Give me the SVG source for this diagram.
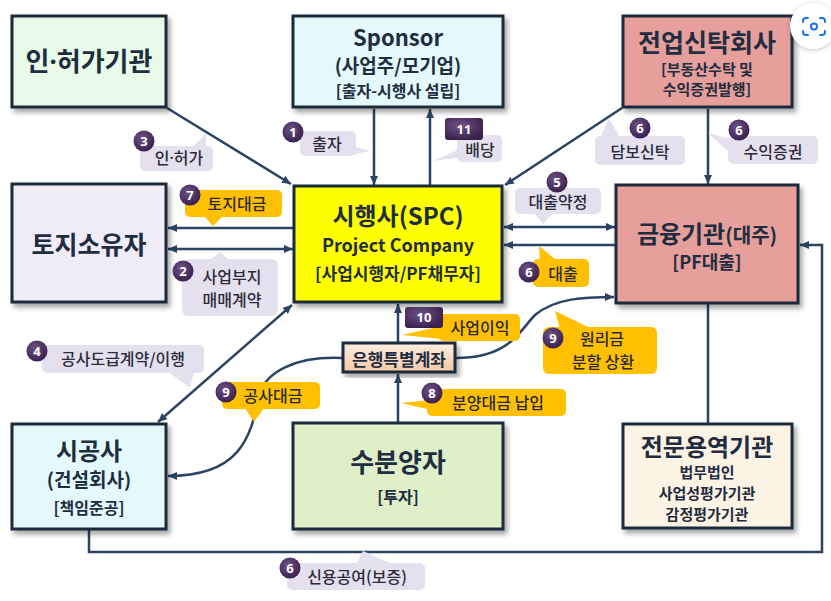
<svg xmlns="http://www.w3.org/2000/svg" width="831" height="601" viewBox="0 0 831 601">
<defs>
<marker id="ah" viewBox="0 0 10 10" refX="10" refY="5" markerWidth="9" markerHeight="9" markerUnits="userSpaceOnUse" orient="auto-start-reverse"><path d="M0,0.5 L10,5 L0,9.5 z" fill="#2c4464"/></marker>
<filter id="sh" x="-10%" y="-10%" width="125%" height="130%"><feDropShadow dx="3" dy="4" stdDeviation="2.5" flood-color="#000" flood-opacity="0.35"/></filter>
<filter id="sh2" x="-30%" y="-30%" width="160%" height="160%"><feDropShadow dx="0" dy="1" stdDeviation="2" flood-color="#000" flood-opacity="0.25"/></filter>
<radialGradient id="bg" cx="40%" cy="35%" r="65%"><stop offset="0" stop-color="#6e5285"/><stop offset="1" stop-color="#3b2150"/></radialGradient>
<linearGradient id="acc" x1="0" y1="0" x2="0" y2="1"><stop offset="0" stop-color="#fdeee2"/><stop offset="1" stop-color="#f3c8a6"/></linearGradient>
</defs>
<style>
.box{stroke:#1d2a3a;stroke-width:3;filter:url(#sh)}
.t{font-family:"Noto Sans CJK KR","Noto Sans",sans-serif;fill:#1f2d40;text-anchor:middle;font-weight:700}
.c{fill:none;stroke:#2c4464;stroke-width:2.5}
.pu{fill:#e5e0ee}
.or{fill:#ffc000}
.lt{font-family:"Noto Sans CJK KR","Noto Sans",sans-serif;font-size:16px;fill:#2b2b3a;text-anchor:middle;font-weight:500}
.bd{fill:url(#bg)}
.bn{font-family:"Noto Sans","Noto Sans CJK KR",sans-serif;font-size:13px;font-weight:700;fill:#fff;text-anchor:middle}
.dot{font-family:"Noto Sans",sans-serif}
</style>
<rect width="831" height="601" fill="#fff"/>

<g id="connectors">
<path class="c" d="M167,108 L291,184" marker-end="url(#ah)"/>
<path class="c" d="M374,109 L374,185" marker-end="url(#ah)"/>
<path class="c" d="M430,185 L430,109" marker-end="url(#ah)"/>
<path class="c" d="M622,108 L505,185" marker-end="url(#ah)"/>
<path class="c" d="M708,109 L708,184" marker-end="url(#ah)"/>
<path class="c" d="M293,228 L168,228" marker-end="url(#ah)"/>
<path class="c" d="M168,249 L293,249" marker-start="url(#ah)" marker-end="url(#ah)"/>
<path class="c" d="M504,227 L615,227" marker-start="url(#ah)" marker-end="url(#ah)"/>
<path class="c" d="M615,245 L504,245" marker-end="url(#ah)"/>
<path class="c" d="M708,304 L708,423"/>
<path class="c" d="M89,530 L89,552 L822,552 L822,245 L800,245" marker-end="url(#ah)"/>
<path class="c" d="M158,422 L292,305" marker-start="url(#ah)" marker-end="url(#ah)"/>
<path class="c" d="M398,342 L398,304" marker-end="url(#ah)"/>
<path class="c" d="M398,422 L398,374" marker-end="url(#ah)"/>
<path class="c" d="M342,358 C295,356 266,372 259,395 C251,440 238,476 168,476" marker-end="url(#ah)"/>
<path class="c" d="M456,358 C510,358 520,330 535,315 C555,298 585,297 614,297" marker-end="url(#ah)"/>
</g>

<g id="permit">
<rect class="box" x="12" y="16" width="154" height="91" fill="#e9fbe8"/>
<text class="t" x="89" y="71" font-size="26">인<tspan class="dot">·</tspan>허가기관</text>
</g>
<g id="sponsor">
<rect class="box" x="293" y="16" width="210" height="91" fill="#e4f9fc"/>
<text class="t" x="398" y="46" font-size="22">Sponsor</text>
<text class="t" x="398" y="73" font-size="19">(사업주/모기업)</text>
<text class="t" x="398" y="97" font-size="16">[출자-시행사 설립]</text>
</g>
<g id="trust">
<rect class="box" x="623" y="16" width="169" height="91" fill="#e69f9b"/>
<text class="t" x="707" y="52" font-size="25">전업신탁회사</text>
<text class="t" x="707" y="75" font-size="15">[부동산수탁 및</text>
<text class="t" x="707" y="95" font-size="15">수익증권발행]</text>
</g>
<g id="land">
<rect class="box" x="12" y="184" width="154" height="118" fill="#f0ecf8"/>
<text class="t" x="89" y="254" font-size="25">토지소유자</text>
</g>
<g id="spc">
<rect class="box" x="294" y="186" width="208" height="116" fill="#ffff00"/>
<text class="t" x="398" y="225" font-size="24">시행사(SPC)</text>
<text class="t" x="398" y="252" font-size="18">Project Company</text>
<text class="t" x="398" y="280" font-size="17">[사업시행자/PF채무자]</text>
</g>
<g id="bank">
<rect class="box" x="616" y="185" width="182" height="118" fill="#e69f9b"/>
<text class="t" x="707" y="243" font-size="24">금융기관<tspan font-size="20">(대주)</tspan></text>
<text class="t" x="707" y="269" font-size="18">[PF대출]</text>
</g>
<g id="builder">
<rect class="box" x="12" y="424" width="154" height="105" fill="#e4f9fc"/>
<text class="t" x="89" y="460" font-size="24">시공사</text>
<text class="t" x="89" y="487" font-size="19">(건설회사)</text>
<text class="t" x="89" y="514" font-size="16">[책임준공]</text>
</g>
<g id="buyer">
<rect class="box" x="293" y="423" width="210" height="106" fill="#dff0c9"/>
<text class="t" x="398" y="472" font-size="26">수분양자</text>
<text class="t" x="398" y="503" font-size="16">[투자]</text>
</g>
<g id="expert">
<rect class="box" x="623" y="424" width="169" height="104" fill="#fdf3e4"/>
<text class="t" x="707" y="456" font-size="24">전문용역기관</text>
<text class="t" x="707" y="478" font-size="15" font-weight="500">법무법인</text>
<text class="t" x="707" y="499" font-size="15" font-weight="500">사업성평가기관</text>
<text class="t" x="707" y="520" font-size="15" font-weight="500">감정평가기관</text>
</g>
<g id="account">
<rect class="box" x="343" y="343" width="112" height="29" fill="url(#acc)" stroke-width="2.5"/>
<text class="t" x="399" y="366" font-size="17">은행특별계좌</text>
</g>

<g id="labels">
<g id="lbl3">
<rect class="pu" x="140" y="146" width="73" height="25" rx="5"/>
<polygon class="pu" points="193,147 206,133 206,147"/>
<text class="lt" x="179" y="164">인<tspan class="dot">·</tspan>허가</text>
<circle class="bd" cx="144" cy="141" r="10.5"/><text class="bn" x="144" y="145.5">3</text>
</g>
<g id="lbl1">
<rect class="pu" x="300" y="131" width="56" height="25" rx="5"/>
<polygon class="pu" points="346,144 370,151 350,155"/>
<text class="lt" x="327" y="150">출자</text>
<circle class="bd" cx="293" cy="132" r="10.5"/><text class="bn" x="293" y="136.5">1</text>
</g>
<g id="lbl11">
<rect class="pu" x="457" y="135" width="45" height="27" rx="5"/>
<polygon class="pu" points="462,148 433,161 462,157"/>
<text class="lt" x="480" y="156">배당</text>
<rect class="bd" x="445" y="118" width="38" height="22" rx="3"/><text class="bn" x="464" y="133.5">11</text>
</g>
<g id="lbl6a">
<rect class="pu" x="595" y="136" width="90" height="29" rx="5"/>
<polygon class="pu" points="600,138 609,118 620,138"/>
<text class="lt" x="640" y="158">담보신탁</text>
<circle class="bd" cx="640" cy="128" r="10.5"/><text class="bn" x="640" y="132.5">6</text>
</g>
<g id="lbl6b">
<rect class="pu" x="728" y="136" width="90" height="28" rx="5"/>
<polygon class="pu" points="730,139 708,133 730,153"/>
<text class="lt" x="773" y="158">수익증권</text>
<circle class="bd" cx="739" cy="130" r="10.5"/><text class="bn" x="739" y="134.5">6</text>
</g>
<g id="lbl7">
<rect class="or" x="185" y="190" width="97" height="27" rx="5"/>
<polygon class="or" points="204,216 213,226 223,216"/>
<text class="lt" x="237" y="210">토지대금</text>
<circle class="bd" cx="190" cy="195" r="10.5"/><text class="bn" x="190" y="199.5">7</text>
</g>
<g id="lbl2">
<rect class="pu" x="182" y="259" width="96" height="57" rx="6"/>
<polygon class="pu" points="210,260 220,252 229,260"/>
<text class="lt" x="232" y="283" font-size="15">사업부지</text>
<text class="lt" x="232" y="306" font-size="15">매매계약</text>
<circle class="bd" cx="183" cy="271" r="10.5"/><text class="bn" x="183" y="275.5">2</text>
</g>
<g id="lbl4">
<rect class="pu" x="42" y="345" width="162" height="28" rx="5"/>
<polygon class="pu" points="168,372 190,388 194,372"/>
<text class="lt" x="123" y="365">공사도급계약/이행</text>
<circle class="bd" cx="37" cy="351" r="10.5"/><text class="bn" x="37" y="355.5">4</text>
</g>
<g id="lbl5">
<rect class="pu" x="515" y="188" width="86" height="26" rx="5"/>
<polygon class="pu" points="534,213 543,224 553,213"/>
<text class="lt" x="558" y="208">대출약정</text>
<circle class="bd" cx="557" cy="182" r="10.5"/><text class="bn" x="557" y="186.5">5</text>
</g>
<g id="lbl6c">
<rect class="or" x="533" y="259" width="56" height="28" rx="5"/>
<polygon class="or" points="540,262 539,246 556,260"/>
<text class="lt" x="563" y="280">대출</text>
<circle class="bd" cx="529" cy="272" r="10.5"/><text class="bn" x="529" y="276.5">6</text>
</g>
<g id="lbl10">
<rect class="or" x="438" y="314" width="82" height="27" rx="5"/>
<polygon class="or" points="442,326 402,335 442,339"/>
<text class="lt" x="480" y="334">사업이익</text>
<rect class="bd" x="405" y="307" width="38" height="21" rx="3"/><text class="bn" x="424" y="322">10</text>
</g>
<g id="lbl9a">
<rect class="or" x="543" y="327" width="114" height="47" rx="6"/>
<polygon class="or" points="560,329 555,311 592,329"/>
<text class="lt" x="602" y="345" font-size="15.5">원리금</text>
<text class="lt" x="603" y="368" font-size="15.5">분할 상환</text>
<circle class="bd" cx="553" cy="338" r="10.5"/><text class="bn" x="553" y="342.5">9</text>
</g>
<g id="lbl9b">
<rect class="or" x="222" y="382" width="98" height="27" rx="5"/>
<polygon class="or" points="245,408 254,422 264,408"/>
<text class="lt" x="273" y="402">공사대금</text>
<circle class="bd" cx="226" cy="392" r="10.5"/><text class="bn" x="226" y="396.5">9</text>
</g>
<g id="lbl8">
<rect class="or" x="427" y="389" width="139" height="27" rx="5"/>
<polygon class="or" points="440,399 401,403 440,412"/>
<text class="lt" x="498" y="409">분양대금 납입</text>
<circle class="bd" cx="432" cy="393" r="10.5"/><text class="bn" x="432" y="397.5">8</text>
</g>
<g id="lbl6d">
<rect class="pu" x="287" y="563" width="138" height="27" rx="5"/>
<polygon class="pu" points="356,564 363,551 392,564"/>
<text class="lt" x="357" y="583">신용공여(보증)</text>
<circle class="bd" cx="290" cy="568" r="10.5"/><text class="bn" x="290" y="572.5">6</text>
</g>
</g>

<g id="lens">
<circle cx="813" cy="26" r="23" fill="#fff" filter="url(#sh2)"/>
<g fill="none" stroke="#1a73e8" stroke-width="2" stroke-linecap="round">
<path d="M803,22 V21 Q803,18 806,18 H808"/>
<path d="M820,18 H822 Q825,18 825,21 V22"/>
<path d="M825,31 V32 Q825,35 822,35 H820"/>
<path d="M808,35 H806 Q803,35 803,32 V31"/>
<circle cx="814" cy="26.5" r="3"/>
</g>
</g>
</svg>
